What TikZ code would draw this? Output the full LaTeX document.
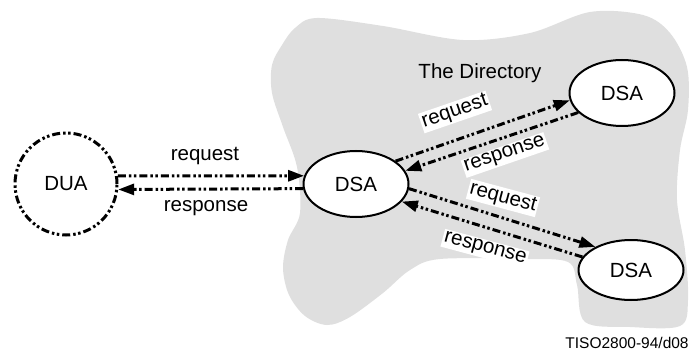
\documentclass[tikz,border=0pt]{standalone}
\usepackage{fontspec}
\setmainfont{Liberation Sans}
\usetikzlibrary{arrows.meta,shapes.geometric}
\definecolor{blobgray}{HTML}{DFDFDF}
\tikzset{
  ddot/.style={line width=3pt, dash pattern=on 8pt off 3pt on 2.5pt off 2.5pt on 2.5pt off 3pt},
  arr/.style={ddot, -{Triangle[length=16pt,width=11pt]}},
  dsanode/.style={ellipse, draw, line width=2pt, fill=white, minimum width=105pt, minimum height=66pt, inner sep=0pt, font=\fontsize{20.5}{24}\selectfont},
  lbl/.style={font=\fontsize{20.5}{24}\selectfont, inner sep=1.5pt},
  wlbl/.style={lbl, fill=white},
}
\begin{document}
\begin{tikzpicture}[x=1pt,y=-1pt]
\useasboundingbox (0,0) rectangle (692,355);
% the Directory blob
\fill[blobgray] plot[smooth cycle, tension=0.55] coordinates {
 (317,18) (383,26) (463,40) (530,33) (590,12) (643,15) (670,33) (687,67)
 (688,110) (680,150) (677,200) (685,250) (688,300) (680,326) (630,327)
 (585,322) (577,285) (568,262) (523,259) (440,259) (410,270) (383,293)
 (350,317) (327,325) (305,316) (289,295) (283,268) (288,240) (300,213)
 (297,167) (283,127) (272,93) (272,65) (282,45) (295,28)};
\node[lbl] (dir) at (480,73) {The Directory};
% nodes
\node[circle, draw, ddot, minimum size=102pt, inner sep=0pt, font=\fontsize{20.5}{24}\selectfont] (dua) at (66,184) {DUA};
\node[dsanode] (dsa) at (356,184) {DSA};
\node[dsanode] (dsa1) at (622,93) {DSA};
\node[dsanode, minimum height=60pt] (dsa2) at (631,270) {DSA};
% DUA <-> DSA
\draw[arr] (dua.9) -- (dsa.171);
\draw[arr] (dsa.185.5) -- (dua.354);
\node[lbl] (l1) at (205,156) {request};
\node[lbl] (l2) at (206,208) {response};
% DSA <-> DSA (top)
\draw[arr] (dsa.30) -- (dsa1.188);
\draw[arr] (dsa1.204) -- (dsa.15);
\node[wlbl, rotate=19] (l3) at (455,112) {request};
\node[wlbl, rotate=19] (l4) at (505,155) {response};
% DSA <-> DSA (bottom)
\draw[arr] (dsa.355.5) -- (dsa2.147);
\draw[arr] (dsa2.165) -- (dsa.339);
\node[wlbl, rotate=-15] (l5) at (503,198) {request};
\node[wlbl, rotate=-15] (l6) at (485,249) {response};
% footer
\node[font=\fontsize{15.5}{18}\selectfont, inner sep=0pt] (foot) at (627,343) {TISO2800-94/d08};
\end{tikzpicture}
\end{document}
